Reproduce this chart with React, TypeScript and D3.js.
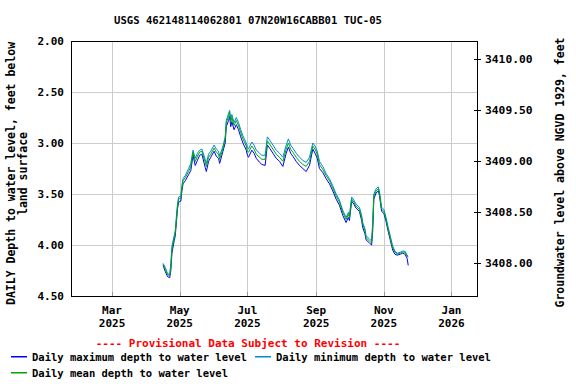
import { useEffect, useRef } from "react";
import * as d3 from "d3";

const title = "USGS 462148114062801 07N20W16CABB01 TUC-05";

const dates = [
  "2025-04-16", "2025-04-18", "2025-04-20", "2025-04-22", "2025-04-23", "2025-04-24", "2025-04-26", "2025-04-27",
  "2025-04-28", "2025-04-29", "2025-04-30", "2025-05-02", "2025-05-03", "2025-05-04", "2025-05-06", "2025-05-09",
  "2025-05-11", "2025-05-13", "2025-05-15", "2025-05-17", "2025-05-19", "2025-05-21", "2025-05-24", "2025-05-25",
  "2025-05-27", "2025-05-29", "2025-06-01", "2025-06-03", "2025-06-05", "2025-06-06", "2025-06-08", "2025-06-09",
  "2025-06-11", "2025-06-12", "2025-06-14", "2025-06-15", "2025-06-16", "2025-06-17", "2025-06-19", "2025-06-21",
  "2025-06-23", "2025-06-25", "2025-06-27", "2025-06-30", "2025-07-01", "2025-07-02", "2025-07-05", "2025-07-07",
  "2025-07-09", "2025-07-12", "2025-07-14", "2025-07-17", "2025-07-19", "2025-07-21", "2025-07-24", "2025-07-27",
  "2025-07-30", "2025-08-02", "2025-08-05", "2025-08-07", "2025-08-09", "2025-08-11", "2025-08-14", "2025-08-17",
  "2025-08-20", "2025-08-23", "2025-08-26", "2025-08-29", "2025-08-31", "2025-09-02", "2025-09-04", "2025-09-07",
  "2025-09-10", "2025-09-13", "2025-09-16", "2025-09-19", "2025-09-22", "2025-09-25", "2025-09-28", "2025-09-30",
  "2025-10-01", "2025-10-03", "2025-10-05", "2025-10-07", "2025-10-10", "2025-10-12", "2025-10-13", "2025-10-15",
  "2025-10-16", "2025-10-19", "2025-10-21", "2025-10-22", "2025-10-23", "2025-10-25", "2025-10-27", "2025-10-28",
  "2025-10-30", "2025-11-01", "2025-11-03", "2025-11-05", "2025-11-07", "2025-11-09", "2025-11-11", "2025-11-13",
  "2025-11-16", "2025-11-18", "2025-11-20", "2025-11-22", "2025-11-23",
];

const meanDepth = [
  4.19, 4.24, 4.29, 4.30, 4.21, 4.04, 3.93, 3.88, 3.75, 3.62, 3.55, 3.54, 3.44, 3.37, 3.34, 3.28,
  3.23, 3.09, 3.18, 3.13, 3.09, 3.08, 3.19, 3.23, 3.14, 3.11, 3.05, 3.09, 3.11, 3.16, 3.09, 3.05,
  2.96, 2.80, 2.74, 2.70, 2.80, 2.75, 2.83, 2.78, 2.83, 2.90, 2.96, 3.03, 3.08, 3.09, 3.03, 3.06,
  3.11, 3.14, 3.16, 3.16, 2.98, 3.01, 3.06, 3.11, 3.14, 3.18, 3.06, 3.00, 3.06, 3.09, 3.14, 3.18,
  3.21, 3.23, 3.18, 3.03, 3.06, 3.11, 3.21, 3.26, 3.32, 3.37, 3.44, 3.52, 3.58, 3.68, 3.75, 3.70,
  3.73, 3.55, 3.58, 3.62, 3.65, 3.73, 3.80, 3.86, 3.93, 3.96, 3.98, 3.81, 3.52, 3.47, 3.45, 3.49,
  3.65, 3.67, 3.75, 3.85, 3.94, 4.03, 4.07, 4.09, 4.08, 4.07, 4.07, 4.11, 4.12,
];

const minDepth = [
  4.18, 4.22, 4.28, 4.29, 4.18, 4.01, 3.91, 3.86, 3.72, 3.60, 3.53, 3.52, 3.42, 3.35, 3.32, 3.25,
  3.20, 3.07, 3.15, 3.10, 3.07, 3.06, 3.16, 3.20, 3.11, 3.08, 3.02, 3.06, 3.08, 3.13, 3.06, 3.03,
  2.94, 2.78, 2.71, 2.68, 2.77, 2.72, 2.80, 2.75, 2.80, 2.87, 2.93, 3.00, 3.04, 3.06, 2.99, 3.02,
  3.07, 3.10, 3.12, 3.12, 2.94, 2.97, 3.02, 3.07, 3.10, 3.14, 3.02, 2.96, 3.02, 3.05, 3.10, 3.14,
  3.17, 3.19, 3.14, 3.00, 3.03, 3.08, 3.18, 3.23, 3.30, 3.35, 3.42, 3.50, 3.56, 3.66, 3.73, 3.68,
  3.71, 3.53, 3.56, 3.60, 3.63, 3.71, 3.78, 3.84, 3.91, 3.94, 3.96, 3.77, 3.50, 3.45, 3.43, 3.47,
  3.63, 3.65, 3.73, 3.83, 3.92, 4.01, 4.06, 4.08, 4.07, 4.06, 4.06, 4.10, 4.11,
];

const maxDepth = [
  4.20, 4.26, 4.31, 4.32, 4.25, 4.08, 3.96, 3.91, 3.78, 3.65, 3.58, 3.57, 3.47, 3.40, 3.37, 3.31,
  3.27, 3.12, 3.22, 3.17, 3.12, 3.11, 3.24, 3.28, 3.18, 3.14, 3.08, 3.13, 3.15, 3.20, 3.12, 3.08,
  3.00, 2.84, 2.78, 2.74, 2.84, 2.79, 2.87, 2.82, 2.87, 2.94, 3.00, 3.07, 3.12, 3.14, 3.07, 3.10,
  3.15, 3.19, 3.21, 3.22, 3.02, 3.05, 3.10, 3.15, 3.18, 3.23, 3.10, 3.04, 3.10, 3.13, 3.18, 3.22,
  3.25, 3.28, 3.22, 3.06, 3.10, 3.15, 3.25, 3.29, 3.35, 3.40, 3.47, 3.55, 3.61, 3.71, 3.78, 3.73,
  3.76, 3.57, 3.60, 3.64, 3.67, 3.76, 3.83, 3.89, 3.95, 3.98, 4.00, 3.86, 3.55, 3.49, 3.47, 3.51,
  3.67, 3.69, 3.77, 3.87, 3.96, 4.05, 4.09, 4.10, 4.09, 4.08, 4.09, 4.13, 4.20,
];

const depthTicks = [2.0, 2.5, 3.0, 3.5, 4.0, 4.5];
const elevTicks = [3408.0, 3408.5, 3409.0, 3409.5, 3410.0];
const landSurface = 3412.18; // elevation of the measuring datum
const monthTicks = ["2025-03-01", "2025-05-01", "2025-07-01", "2025-09-01", "2025-11-01", "2026-01-01"];

const legendItems = [
  { label: "Daily maximum depth to water level", color: "#0000ff" },
  { label: "Daily minimum depth to water level", color: "#0088dd" },
  { label: "Daily mean depth to water level", color: "#00a800" },
];

const FONT = "'DejaVu Sans Mono', monospace";

export default function App() {
  const svgRef = useRef<SVGSVGElement>(null);

  useEffect(() => {
    const svg = d3.select(svgRef.current);
    svg.selectAll("*").remove();

    const width = 576;
    const height = 384;
    const margin = { top: 41, right: 99, bottom: 88, left: 71 };
    const parse = d3.timeParse("%Y-%m-%d");

    svg.append("rect").attr("width", width).attr("height", height).attr("fill", "white");

    const x = d3
      .scaleTime()
      .domain([new Date(2025, 0, 23), new Date(2026, 0, 24)])
      .range([margin.left, width - margin.right]);

    const y = d3.scaleLinear().domain([2.0, 4.5]).range([margin.top, height - margin.bottom]);
    const yRight = d3
      .scaleLinear()
      .domain([landSurface - 2.0, landSurface - 4.5])
      .range([margin.top, height - margin.bottom]);

    const g = svg.append("g");

    // grid
    depthTicks.slice(1, -1).forEach((t) => {
      g.append("line")
        .attr("x1", margin.left).attr("x2", width - margin.right)
        .attr("y1", Math.round(y(t)) + 0.5).attr("y2", Math.round(y(t)) + 0.5)
        .attr("stroke", "#cccccc");
    });
    monthTicks.forEach((m) => {
      const px = Math.round(x(parse(m)!)) + 0.5;
      g.append("line")
        .attr("x1", px).attr("x2", px)
        .attr("y1", margin.top).attr("y2", height - margin.bottom)
        .attr("stroke", "#cccccc");
      g.append("line")
        .attr("x1", px).attr("x2", px)
        .attr("y1", height - margin.bottom - 4).attr("y2", height - margin.bottom)
        .attr("stroke", "#999999");
    });

    // frame
    g.append("rect")
      .attr("x", margin.left + 0.5).attr("y", margin.top + 0.5)
      .attr("width", width - margin.left - margin.right)
      .attr("height", height - margin.top - margin.bottom)
      .attr("fill", "none").attr("stroke", "black");

    // series
    const rows = dates.map((d, i) => ({
      date: parse(d)!,
      mean: meanDepth[i],
      min: minDepth[i],
      max: maxDepth[i],
    }));

    const series: [keyof typeof rows[0], string][] = [
      ["max", legendItems[0].color],
      ["min", legendItems[1].color],
      ["mean", legendItems[2].color],
    ];
    series.forEach(([key, color]) => {
      const line = d3
        .line<typeof rows[0]>()
        .x((d) => x(d.date))
        .y((d) => y(d[key] as number));
      g.append("path")
        .datum(rows)
        .attr("d", line)
        .attr("fill", "none")
        .attr("stroke", color)
        .attr("stroke-width", 1);
    });

    // left axis labels
    depthTicks.forEach((t) => {
      g.append("text")
        .attr("x", margin.left - 7).attr("y", y(t) + 4)
        .attr("text-anchor", "end")
        .attr("font-family", FONT).attr("font-weight", "bold").attr("font-size", 11)
        .text(d3.format(".2f")(t));
    });

    // right axis ticks + labels
    elevTicks.forEach((t) => {
      const py = Math.round(yRight(t)) + 0.5;
      g.append("line")
        .attr("x1", width - margin.right - 3).attr("x2", width - margin.right + 4)
        .attr("y1", py).attr("y2", py)
        .attr("stroke", "black");
      g.append("text")
        .attr("x", width - margin.right + 8).attr("y", yRight(t) + 4)
        .attr("font-family", FONT).attr("font-weight", "bold").attr("font-size", 11.3)
        .text(d3.format(".2f")(t));
    });

    // x axis labels
    const fmtMon = d3.timeFormat("%b");
    const fmtYear = d3.timeFormat("%Y");
    monthTicks.forEach((m) => {
      const dt = parse(m)!;
      const t = g.append("text")
        .attr("text-anchor", "middle")
        .attr("font-family", FONT).attr("font-weight", "bold").attr("font-size", 11);
      t.append("tspan").attr("x", x(dt)).attr("y", 314).text(fmtMon(dt));
      t.append("tspan").attr("x", x(dt)).attr("y", 327).text(fmtYear(dt));
    });

    // title
    svg.append("text")
      .attr("x", 248).attr("y", 24)
      .attr("text-anchor", "middle")
      .attr("font-family", FONT).attr("font-weight", "bold").attr("font-size", 10.6)
      .text(title);

    // axis titles
    const midY = (margin.top + height - margin.bottom) / 2;
    const leftTitle = svg.append("text")
      .attr("transform", `translate(0, ${midY + 5}) rotate(-90)`)
      .attr("text-anchor", "middle")
      .attr("font-family", FONT).attr("font-weight", "bold").attr("font-size", 11.5);
    leftTitle.append("tspan").attr("x", 0).attr("y", 15).text("DAILY Depth to water level, feet below");
    leftTitle.append("tspan").attr("x", 0).attr("y", 27).text("land surface");

    svg.append("text")
      .attr("transform", `translate(564, ${midY + 4}) rotate(-90)`)
      .attr("text-anchor", "middle")
      .attr("font-family", FONT).attr("font-weight", "bold").attr("font-size", 11.5)
      .text("Groundwater level above NGVD 1929, feet");

    // provisional note
    svg.append("text")
      .attr("x", 248).attr("y", 347)
      .attr("text-anchor", "middle")
      .attr("fill", "#ff0000")
      .attr("font-family", FONT).attr("font-weight", "bold").attr("font-size", 11)
      .text("---- Provisional Data Subject to Revision ----");

    // legend
    const legendPos = [
      { x: 11, y: 357 },
      { x: 255, y: 357 },
      { x: 11, y: 373 },
    ];
    legendItems.forEach((item, i) => {
      const p = legendPos[i];
      svg.append("rect")
        .attr("x", p.x).attr("y", p.y - 1)
        .attr("width", 16).attr("height", 1.5)
        .attr("fill", item.color);
      svg.append("text")
        .attr("x", p.x + 21).attr("y", p.y + 4)
        .attr("font-family", FONT).attr("font-weight", "bold").attr("font-size", 10.5)
        .text(item.label);
    });
  }, []);

  return (
    <svg
      ref={svgRef}
      width={576}
      height={384}
      style={{ position: "absolute", left: 0, top: 0 }}
    ></svg>
  );
}
